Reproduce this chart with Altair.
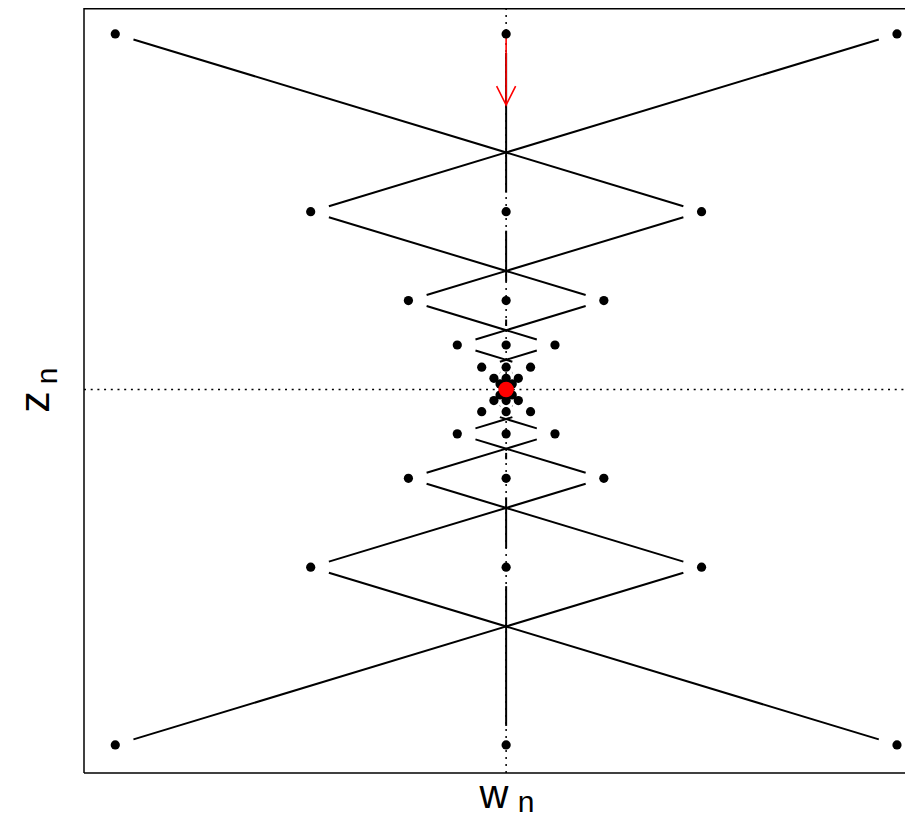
import altair as alt
import pandas as pd
import math

# ---- data ----
step = [0, 1, 2, 3, 4, 5, 6, 7, 8, 9]
scale_w = [1, -0.5, 0.25, -0.125, 0.0625, -0.03125, 0.015625, -0.0078125, 0.00390625, -0.001953125]
scale_z = [1, 0.5, 0.25, 0.125, 0.0625, 0.03125, 0.015625, 0.0078125, 0.00390625, 0.001953125]
start_w = [-1, 0, 1, -1, 0, 1]
start_z = [1, 1, 1, -1, -1, -1]
fixed_w = [0]
fixed_z = [0]
arrow_w = [0, 0]
arrow_z = [1, 0.8]

# ---- layout ----
PW, PH = 821, 765
XDOM = [-1.08, 1.0205]
YDOM = [-1.079, 1.073]
px_x = PW / (XDOM[1] - XDOM[0])
px_y = PH / (YDOM[1] - YDOM[0])
GAP = 19

pts = []
for i in range(len(start_w)):
    for k in step:
        pts.append({"traj": i, "n": k,
                    "w": start_w[i] * scale_w[k],
                    "z": start_z[i] * scale_z[k]})
pts_df = pd.DataFrame(pts)

segs = []
for i in range(len(start_w)):
    tr = pts_df[pts_df.traj == i].reset_index(drop=True)
    for k in range(len(tr) - 1):
        a, b = tr.loc[k], tr.loc[k + 1]
        dxp = (b.w - a.w) * px_x
        dyp = (b.z - a.z) * px_y
        L = math.hypot(dxp, dyp)
        if L > 2 * GAP:
            t = GAP / L
            segs.append({"w": a.w + t * (b.w - a.w), "z": a.z + t * (b.z - a.z),
                         "w2": b.w - t * (b.w - a.w), "z2": b.z - t * (b.z - a.z)})
seg_df = pd.DataFrame(segs)

xs = alt.Scale(domain=XDOM, nice=False, zero=False)
ys = alt.Scale(domain=YDOM, nice=False, zero=False)
X = lambda f: alt.X(f, type="quantitative", scale=xs, axis=None)
Y = lambda f: alt.Y(f, type="quantitative", scale=ys, axis=None)

one = pd.DataFrame({"d": [0]})

vline = alt.Chart(pd.DataFrame({"w": fixed_w})).mark_rule(
    color="black", strokeWidth=1.5, strokeDash=[2, 5]).encode(
    x=X("w"), y=alt.value(0), y2=alt.value(PH))
hline = alt.Chart(pd.DataFrame({"z": fixed_z})).mark_rule(
    color="black", strokeWidth=1.5, strokeDash=[2, 4.7]).encode(
    y=Y("z"), x=alt.value(0), x2=alt.value(PW))

segments = alt.Chart(seg_df).mark_rule(color="black", strokeWidth=2).encode(
    x=X("w"), y=Y("z"), x2="w2:Q", y2="z2:Q")

adf = pd.DataFrame({"w": [arrow_w[0]], "z": [arrow_z[0]], "w2": [arrow_w[1]], "z2": [arrow_z[1]]})
shaft = alt.Chart(adf).mark_rule(color="red", strokeWidth=1.6).encode(
    x=X("w"), y=Y("z"), x2="w2:Q", y2="z2:Q")
head = alt.Chart(pd.DataFrame({"w": [arrow_w[1]], "z": [arrow_z[1]]})).mark_point(
    shape="M-0.5,-1L0,0L0.5,-1", size=1444, filled=False, stroke="red",
    strokeWidth=1.6, opacity=1).encode(x=X("w"), y=Y("z"))

points = alt.Chart(pts_df).mark_circle(color="black", size=85, opacity=1).encode(
    x=X("w"), y=Y("z"))
fixed = alt.Chart(pd.DataFrame({"w": fixed_w, "z": fixed_z})).mark_circle(
    color="red", size=240, opacity=1).encode(x=X("w"), y=Y("z"))

frame_l = alt.Chart(one).mark_rule(color="black", strokeWidth=1.5).encode(
    x=alt.value(0), y=alt.value(0), y2=alt.value(PH))
frame_t = alt.Chart(one).mark_rule(color="black", strokeWidth=1.5).encode(
    x=alt.value(0), x2=alt.value(PW), y=alt.value(0.75))
frame_b = alt.Chart(one).mark_rule(color="black", strokeWidth=1.5).encode(
    x=alt.value(0), x2=alt.value(PW), y=alt.value(PH))

FONT = "Liberation Sans"
tw = alt.Chart(one).mark_text(text="w", font=FONT, fontSize=40, align="center",
                              baseline="alphabetic").encode(x=alt.value(410), y=alt.value(800))
tn1 = alt.Chart(one).mark_text(text="n", font=FONT, fontSize=30, align="center",
                               baseline="alphabetic").encode(x=alt.value(442), y=alt.value(804))
tz = alt.Chart(one).mark_text(text="z", font=FONT, fontSize=43, align="center",
                              baseline="alphabetic", angle=270).encode(x=alt.value(-35), y=alt.value(394))
tn2 = alt.Chart(one).mark_text(text="n", font=FONT, fontSize=30, align="center",
                               baseline="alphabetic", angle=270).encode(x=alt.value(-27), y=alt.value(368))

chart = alt.layer(
    vline, hline, segments, shaft, head, points, fixed,
    frame_l, frame_t, frame_b, tw, tn1, tz, tn2
).properties(
    width=PW, height=PH,
    autosize=alt.AutoSizeParams(type="none"),
    padding={"left": 76, "top": 0, "right": 0, "bottom": 46},
).configure_view(stroke=None)

chart.save("out.html", embed_options={"renderer": "svg", "actions": False})
